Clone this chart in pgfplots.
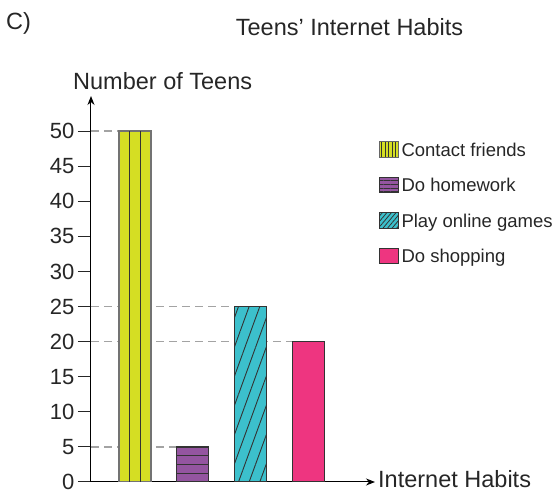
\documentclass[border=0pt]{standalone}
\usepackage{fontspec}
\setmainfont{Liberation Sans}
\usepackage{pgfplots}
\pgfplotsset{compat=1.18}
\usetikzlibrary{arrows.meta,patterns.meta}

\definecolor{cfriends}{HTML}{D5DE23}
\definecolor{chomework}{HTML}{9455A0}
\definecolor{cgames}{HTML}{3CC0CC}
\definecolor{cshopping}{HTML}{EE3580}
\definecolor{cedge}{HTML}{333333}
\definecolor{cdash}{HTML}{A3A3A3}

\begin{document}
\begin{tikzpicture}
\path[use as bounding box] (0pt,0pt) rectangle (555pt,494pt);

\begin{axis}[
  at={(91pt,12pt)}, anchor=south west,
  scale only axis, width=284pt, height=386pt,
  xmin=0.237, xmax=5.159, ymin=0, ymax=55,
  axis lines=left,
  axis line style={-{Stealth[length=9pt,width=7pt]}, line width=1pt, black},
  xtick=\empty,
  ytick={0,5,...,50},
  tick align=outside, major tick length=13pt,
  tick style={line width=1pt, black!85},
  /pgf/number format/assume math mode=true,
  ticklabel style={font=\fontsize{22}{26}\selectfont, text=black!85},
  label style={font=\fontsize{23.5}{28}\selectfont, text=black!85},
  ylabel={Number of Teens},
  ylabel style={rotate=-90, at={(axis description cs:-0.0634,1.018)}, anchor=base west, inner sep=0pt},
  xlabel={Internet Habits},
  xlabel style={at={(axis description cs:1.0106,-0.0155)}, anchor=base west, inner sep=0pt},
  legend cell align=left,
  legend style={draw=none, fill=none, at={(1.0141,0.8836)}, anchor=north west,
    inner sep=0pt, row sep=16.4pt, font=\fontsize{18.5}{22}\selectfont,
    text=black!85,
    nodes={inner sep=0pt, text height=13.5pt, text depth=4pt},
    /tikz/every odd column/.append style={column sep=3pt}},
]

% dashed guide lines
\addplot[forget plot, cdash, line width=1.2pt, dash pattern=on 8pt off 5pt] coordinates {(0.237,50) (0.723,50)};
\addplot[forget plot, cdash, line width=1.2pt, dash pattern=on 8pt off 5pt] coordinates {(0.237,25) (2.723,25)};
\addplot[forget plot, cdash, line width=1.2pt, dash pattern=on 8pt off 5pt] coordinates {(0.237,20) (3.723,20)};
\addplot[forget plot, cdash, line width=1.2pt, dash pattern=on 8pt off 5pt] coordinates {(0.237,5) (1.723,5)};

% bars
\addplot[forget plot, ybar, bar width=32pt, bar shift=0pt, fill=cfriends, draw=black!55, line width=1.2pt] coordinates {(1,50)};
\addplot[forget plot, ycomb, no marks, draw=cedge, line width=1pt] coordinates {(0.905,50) (1.088,50)};

\addplot[forget plot, ybar, bar width=32pt, bar shift=0pt, fill=chomework, draw=cedge, line width=1.2pt] coordinates {(2,5)};
\addplot[forget plot, draw=cedge, line width=1pt] coordinates {(1.723,1.25) (2.277,1.25)};
\addplot[forget plot, draw=cedge, line width=1pt] coordinates {(1.723,2.5) (2.277,2.5)};
\addplot[forget plot, draw=cedge, line width=1pt] coordinates {(1.723,3.75) (2.277,3.75)};

\addplot[forget plot, ybar, bar width=32pt, bar shift=0pt, fill=cgames, draw=cedge, line width=1.2pt,
  postaction={pattern={Lines[angle=70,distance=10pt,line width=0.9pt]}, pattern color=cedge}] coordinates {(3,25)};

\addplot[forget plot, ybar, bar width=32pt, bar shift=0pt, fill=cshopping, draw=cedge, line width=1.2pt] coordinates {(4,20)};

% legend
\addlegendimage{legend image code/.code={
  \draw[line width=0.8pt, draw=black!60, fill=cfriends,
    postaction={pattern={Lines[angle=90,distance=3.5pt,line width=0.8pt]}, pattern color=cedge}]
    (0pt,-5.5pt) rectangle (18.5pt,10pt);}}
\addlegendentry{Contact friends}
\addlegendimage{legend image code/.code={
  \draw[line width=0.8pt, draw=cedge, fill=chomework,
    postaction={pattern={Lines[angle=0,distance=3.6pt,line width=0.8pt]}, pattern color=cedge}]
    (0pt,-5.5pt) rectangle (18.5pt,10pt);}}
\addlegendentry{Do homework}
\addlegendimage{legend image code/.code={
  \draw[line width=0.8pt, draw=cedge, fill=cgames,
    postaction={pattern={Lines[angle=50,distance=3.5pt,line width=0.8pt]}, pattern color=cedge}]
    (0pt,-5.5pt) rectangle (18.5pt,10pt);}}
\addlegendentry{Play online games}
\addlegendimage{legend image code/.code={
  \draw[line width=0.8pt, draw=cedge, fill=cshopping]
    (0pt,-5.5pt) rectangle (18.5pt,10pt);}}
\addlegendentry{Do shopping}
\end{axis}

\node[anchor=base, inner sep=0pt, font=\fontsize{23.5}{28}\selectfont, text=black!85] at (349.5pt,458pt) {Teens’ Internet Habits};
\node[anchor=base west, inner sep=0pt, font=\fontsize{23.5}{28}\selectfont, text=black!85] at (6pt,464pt) {C)};
\end{tikzpicture}
\end{document}
